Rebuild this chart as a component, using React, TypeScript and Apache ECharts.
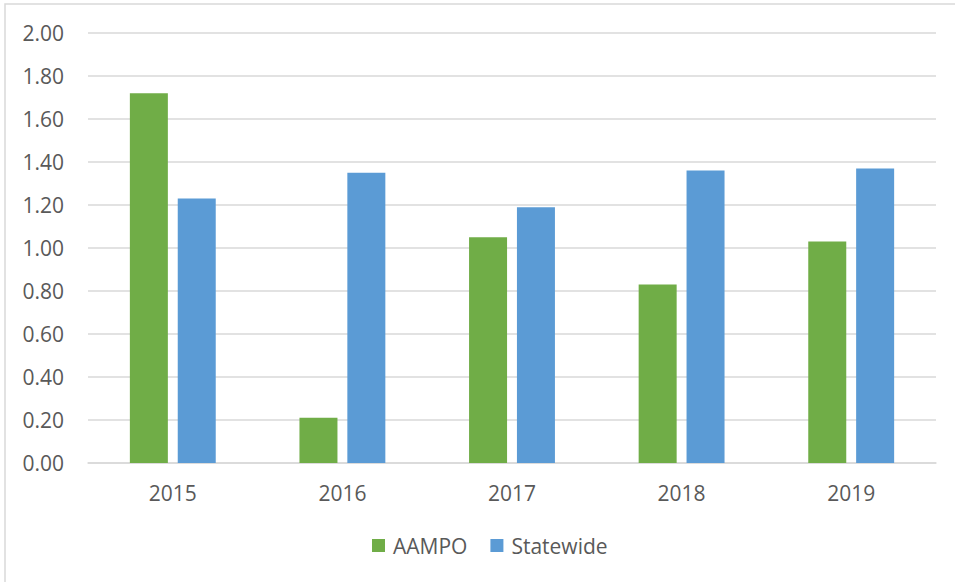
import React, { useEffect, useRef } from "react";
import * as echarts from "echarts";

const categories = ["2015", "2016", "2017", "2018", "2019"];
const aampoValues = [1.72, 0.21, 1.05, 0.83, 1.03];
const statewideValues = [1.23, 1.35, 1.19, 1.36, 1.37];
const seriesNames = ["AAMPO", "Statewide"];

const FONT = "'Open Sans', sans-serif";
const TEXT_COLOR = "#595959";

export default function App() {
  const ref = useRef<HTMLDivElement>(null);
  useEffect(() => {
    document.body.style.margin = "0";
    const chart = echarts.init(ref.current!, null, { renderer: "svg" });
    chart.setOption({
      animation: false,
      backgroundColor: "#ffffff",
      textStyle: { fontFamily: FONT },
      graphic: [
        {
          type: "rect",
          shape: { x: 5, y: 4, width: 1000, height: 700 },
          style: { fill: "none", stroke: "#D9D9D9", lineWidth: 1.5 },
          silent: true,
          z: -10,
        },
      ],
      grid: { left: 88, right: 19, top: 33, bottom: 119, containLabel: false },
      legend: {
        bottom: 21,
        left: 367,
        itemWidth: 13,
        itemHeight: 13,
        itemGap: 23,
        icon: "rect",
        textStyle: { fontFamily: FONT, fontSize: 21, color: TEXT_COLOR, padding: [0, 0, 0, 3] },
        data: seriesNames,
      },
      xAxis: {
        type: "category",
        data: categories,
        axisLine: { lineStyle: { color: "#D9D9D9", width: 1.5 } },
        axisTick: { show: false },
        axisLabel: { fontFamily: FONT, fontSize: 21, color: TEXT_COLOR, margin: 19 },
      },
      yAxis: {
        type: "value",
        min: 0,
        max: 2,
        interval: 0.2,
        axisLine: { show: false },
        axisTick: { show: false },
        splitLine: { lineStyle: { color: "#D9D9D9", width: 1.5 } },
        axisLabel: {
          fontFamily: FONT,
          fontSize: 21,
          color: TEXT_COLOR,
          margin: 24,
          formatter: (v: number) => v.toFixed(2),
        },
      },
      series: [
        {
          name: seriesNames[0],
          type: "bar",
          data: aampoValues,
          barWidth: 38,
          barGap: "26%",
          itemStyle: { color: "#70AD47" },
        },
        {
          name: seriesNames[1],
          type: "bar",
          data: statewideValues,
          barWidth: 38,
          itemStyle: { color: "#5B9BD5" },
        },
      ],
    });
    return () => chart.dispose();
  }, []);
  return <div ref={ref} style={{ width: 955, height: 582 }} />;
}
